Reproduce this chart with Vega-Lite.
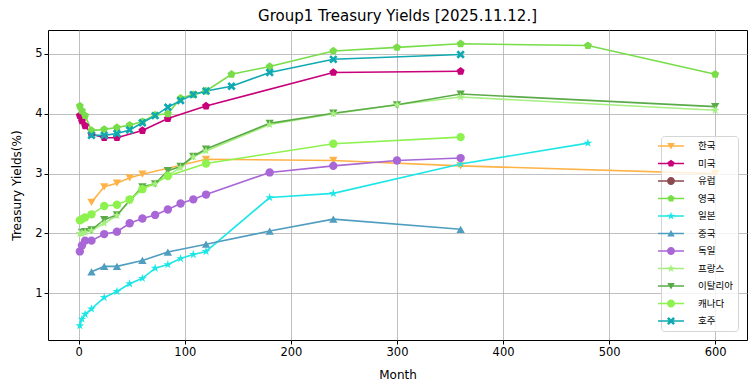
{
  "$schema": "https://vega.github.io/schema/vega-lite/v6.json",
  "width": 699,
  "height": 310,
  "autosize": "none",
  "padding": {"left": 48, "top": 30, "right": 8, "bottom": 51},
  "background": "white",
  "title": {"text": "Group1 Treasury Yields [2025.11.12.]", "font": "DejaVu Sans", "fontSize": 15, "fontWeight": "normal", "color": "#000", "anchor": "middle", "offset": 6},
  "config": {
    "view": {"stroke": "#000", "strokeWidth": 1},
    "axis": {"grid": true, "gridColor": "#b0b0b0", "gridWidth": 0.8, "domain": false, "tickColor": "#000", "tickSize": 4, "labelFont": "DejaVu Sans", "labelFontSize": 11.5, "labelColor": "#000", "titleFont": "DejaVu Sans", "titleFontSize": 12, "titleFontWeight": "normal", "titleColor": "#000"}
  },
  "data": {"values": [
    {"c":"한국","m":12,"y":2.52},{"c":"한국","m":24,"y":2.78},{"c":"한국","m":36,"y":2.84},{"c":"한국","m":48,"y":2.93},{"c":"한국","m":60,"y":2.99},{"c":"한국","m":120,"y":3.24},{"c":"한국","m":240,"y":3.22},{"c":"한국","m":360,"y":3.13},{"c":"한국","m":600,"y":3.0},
    {"c":"미국","m":1,"y":3.97},{"c":"미국","m":3,"y":3.88},{"c":"미국","m":6,"y":3.80},{"c":"미국","m":12,"y":3.66},{"c":"미국","m":24,"y":3.60},{"c":"미국","m":36,"y":3.60},{"c":"미국","m":60,"y":3.72},{"c":"미국","m":84,"y":3.92},{"c":"미국","m":120,"y":4.13},{"c":"미국","m":240,"y":4.69},{"c":"미국","m":360,"y":4.71},
    {"c":"영국","m":1,"y":4.13},{"c":"영국","m":3,"y":4.05},{"c":"영국","m":6,"y":3.97},{"c":"영국","m":12,"y":3.72},{"c":"영국","m":24,"y":3.74},{"c":"영국","m":36,"y":3.77},{"c":"영국","m":48,"y":3.81},{"c":"영국","m":60,"y":3.87},{"c":"영국","m":72,"y":3.98},{"c":"영국","m":84,"y":4.00},{"c":"영국","m":96,"y":4.26},{"c":"영국","m":108,"y":4.32},{"c":"영국","m":120,"y":4.38},{"c":"영국","m":144,"y":4.66},{"c":"영국","m":180,"y":4.79},{"c":"영국","m":240,"y":5.05},{"c":"영국","m":300,"y":5.11},{"c":"영국","m":360,"y":5.17},{"c":"영국","m":480,"y":5.14},{"c":"영국","m":600,"y":4.66},
    {"c":"일본","m":1,"y":0.46},{"c":"일본","m":3,"y":0.57},{"c":"일본","m":6,"y":0.65},{"c":"일본","m":12,"y":0.74},{"c":"일본","m":24,"y":0.93},{"c":"일본","m":36,"y":1.03},{"c":"일본","m":48,"y":1.16},{"c":"일본","m":60,"y":1.25},{"c":"일본","m":72,"y":1.42},{"c":"일본","m":84,"y":1.48},{"c":"일본","m":96,"y":1.58},{"c":"일본","m":108,"y":1.65},{"c":"일본","m":120,"y":1.70},{"c":"일본","m":180,"y":2.60},{"c":"일본","m":240,"y":2.67},{"c":"일본","m":360,"y":3.16},{"c":"일본","m":480,"y":3.51},
    {"c":"중국","m":12,"y":1.36},{"c":"중국","m":24,"y":1.45},{"c":"중국","m":36,"y":1.45},{"c":"중국","m":60,"y":1.55},{"c":"중국","m":84,"y":1.69},{"c":"중국","m":120,"y":1.82},{"c":"중국","m":180,"y":2.04},{"c":"중국","m":240,"y":2.24},{"c":"중국","m":360,"y":2.07},
    {"c":"독일","m":1,"y":1.70},{"c":"독일","m":3,"y":1.80},{"c":"독일","m":6,"y":1.88},{"c":"독일","m":12,"y":1.88},{"c":"독일","m":24,"y":1.99},{"c":"독일","m":36,"y":2.03},{"c":"독일","m":48,"y":2.17},{"c":"독일","m":60,"y":2.25},{"c":"독일","m":72,"y":2.31},{"c":"독일","m":84,"y":2.40},{"c":"독일","m":96,"y":2.50},{"c":"독일","m":108,"y":2.57},{"c":"독일","m":120,"y":2.65},{"c":"독일","m":180,"y":3.02},{"c":"독일","m":240,"y":3.13},{"c":"독일","m":300,"y":3.22},{"c":"독일","m":360,"y":3.26},
    {"c":"프랑스","m":1,"y":2.00},{"c":"프랑스","m":3,"y":2.00},{"c":"프랑스","m":6,"y":2.02},{"c":"프랑스","m":12,"y":2.05},{"c":"프랑스","m":24,"y":2.17},{"c":"프랑스","m":36,"y":2.30},{"c":"프랑스","m":48,"y":2.55},{"c":"프랑스","m":60,"y":2.75},{"c":"프랑스","m":72,"y":2.83},{"c":"프랑스","m":84,"y":2.97},{"c":"프랑스","m":96,"y":3.10},{"c":"프랑스","m":108,"y":3.28},{"c":"프랑스","m":120,"y":3.38},{"c":"프랑스","m":180,"y":3.82},{"c":"프랑스","m":240,"y":4.00},{"c":"프랑스","m":300,"y":4.15},{"c":"프랑스","m":360,"y":4.28},{"c":"프랑스","m":600,"y":4.06},
    {"c":"이탈리아","m":3,"y":2.02},{"c":"이탈리아","m":6,"y":2.03},{"c":"이탈리아","m":12,"y":2.06},{"c":"이탈리아","m":24,"y":2.23},{"c":"이탈리아","m":36,"y":2.31},{"c":"이탈리아","m":48,"y":2.55},{"c":"이탈리아","m":60,"y":2.78},{"c":"이탈리아","m":72,"y":2.83},{"c":"이탈리아","m":84,"y":3.05},{"c":"이탈리아","m":96,"y":3.12},{"c":"이탈리아","m":108,"y":3.29},{"c":"이탈리아","m":120,"y":3.41},{"c":"이탈리아","m":180,"y":3.84},{"c":"이탈리아","m":240,"y":4.01},{"c":"이탈리아","m":300,"y":4.15},{"c":"이탈리아","m":360,"y":4.33},{"c":"이탈리아","m":600,"y":4.12},
    {"c":"캐나다","m":1,"y":2.22},{"c":"캐나다","m":3,"y":2.24},{"c":"캐나다","m":6,"y":2.27},{"c":"캐나다","m":12,"y":2.32},{"c":"캐나다","m":24,"y":2.46},{"c":"캐나다","m":36,"y":2.48},{"c":"캐나다","m":48,"y":2.57},{"c":"캐나다","m":60,"y":2.74},{"c":"캐나다","m":84,"y":2.96},{"c":"캐나다","m":120,"y":3.17},{"c":"캐나다","m":240,"y":3.50},{"c":"캐나다","m":360,"y":3.61},
    {"c":"호주","m":12,"y":3.64},{"c":"호주","m":24,"y":3.64},{"c":"호주","m":36,"y":3.67},{"c":"호주","m":48,"y":3.73},{"c":"호주","m":60,"y":3.85},{"c":"호주","m":72,"y":3.97},{"c":"호주","m":84,"y":4.11},{"c":"호주","m":96,"y":4.22},{"c":"호주","m":108,"y":4.32},{"c":"호주","m":120,"y":4.38},{"c":"호주","m":144,"y":4.46},{"c":"호주","m":180,"y":4.69},{"c":"호주","m":240,"y":4.91},{"c":"호주","m":360,"y":4.99}
  ]},
  "encoding": {
    "x": {"field": "m", "type": "quantitative", "scale": {"domain": [-29, 630], "nice": false, "zero": false}, "axis": {"values": [0,100,200,300,400,500,600], "title": "Month", "titlePadding": 12}},
    "y": {"field": "y", "type": "quantitative", "scale": {"domain": [0.22, 5.4], "nice": false, "zero": false}, "axis": {"values": [1,2,3,4,5], "title": "Treasury Yields(%)", "titlePadding": 11}},
    "color": {"field": "c", "type": "nominal",
      "scale": {"domain": ["한국","미국","유럽","영국","일본","중국","독일","프랑스","이탈리아","캐나다","호주"],
                "range": ["#FFB347","#C8007A","#8B4A4E","#78DD48","#1EE6E6","#4F9DBF","#A966D6","#A6EF80","#5BAA48","#8DF24E","#10A9B1"]},
      "legend": {"orient": "none", "legendX": 613, "legendY": 106, "title": null, "padding": 5, "symbolSize": 100, "symbolOffset": 0, "labelOffset": 22, "rowPadding": 7.5,
        "labelFont": "Noto Sans CJK KR", "labelFontSize": 9.5, "labelColor": "#000", "strokeColor": "#d5d5d5", "fillColor": "rgba(255,255,255,0.8)", "cornerRadius": 3, "symbolStrokeWidth": 0, "symbolOpacity": 1, "symbolType": "circle",
        "encode": {"symbols": {"update": {
          "shape": {"signal": "['M-2.6,-0.16H2.6V0.16H-2.6ZM-0.75,-0.6L0.75,-0.6L0,0.7Z','M-2.6,-0.16H2.6V0.16H-2.6ZM0,-0.75L0.713,-0.232L0.441,0.607L-0.441,0.607L-0.713,-0.232Z','M-2.6,-0.16H2.6V0.16H-2.6ZM0.8,0A0.8,0.8 0 1,1 -0.8,0A0.8,0.8 0 1,1 0.8,0Z','M-2.6,-0.16H2.6V0.16H-2.6ZM0,-0.75L0.713,-0.232L0.441,0.607L-0.441,0.607L-0.713,-0.232Z','M-2.6,-0.16H2.6V0.16H-2.6ZM0,-0.85L0.191,-0.263L0.808,-0.263L0.309,0.1L0.5,0.688L0,0.325L-0.5,0.688L-0.309,0.1L-0.808,-0.263L-0.191,-0.263Z','M-2.6,-0.16H2.6V0.16H-2.6ZM0,-0.7L0.75,0.6L-0.75,0.6Z','M-2.6,-0.16H2.6V0.16H-2.6ZM0.8,0A0.8,0.8 0 1,1 -0.8,0A0.8,0.8 0 1,1 0.8,0Z','M-2.6,-0.16H2.6V0.16H-2.6ZM0,-0.85L0.191,-0.263L0.808,-0.263L0.309,0.1L0.5,0.688L0,0.325L-0.5,0.688L-0.309,0.1L-0.808,-0.263L-0.191,-0.263Z','M-2.6,-0.16H2.6V0.16H-2.6ZM-0.75,-0.6L0.75,-0.6L0,0.7Z','M-2.6,-0.16H2.6V0.16H-2.6ZM0.8,0A0.8,0.8 0 1,1 -0.8,0A0.8,0.8 0 1,1 0.8,0Z','M-2.6,-0.16H2.6V0.16H-2.6ZM-0.8,-0.44L-0.44,-0.8L0,-0.36L0.44,-0.8L0.8,-0.44L0.36,0L0.8,0.44L0.44,0.8L0,0.36L-0.44,0.8L-0.8,0.44L-0.36,0Z'][indexof(['한국','미국','유럽','영국','일본','중국','독일','프랑스','이탈리아','캐나다','호주'], datum.value)]"},
          "fill": {"scale": "color", "field": "value"},
          "stroke": {"value": "transparent"},
          "opacity": {"value": 1}
        }}}
      }}
  },
  "layer": [
    {"mark": {"type": "line", "strokeWidth": 1.6, "clip": true}},
    {"transform": [{"filter": {"field": "c", "oneOf": ["한국","이탈리아"]}}],
     "mark": {"type": "point", "filled": true, "opacity": 1, "size": 70, "clip": true, "shape": "triangle-down"}},
    {"transform": [{"filter": {"field": "c", "oneOf": ["미국","영국"]}}],
     "mark": {"type": "point", "filled": true, "opacity": 1, "size": 70, "clip": true, "shape": "M0,-1L0.951,-0.309L0.588,0.809L-0.588,0.809L-0.951,-0.309Z"}},
    {"transform": [{"filter": {"field": "c", "oneOf": ["일본","프랑스"]}}],
     "mark": {"type": "point", "filled": true, "opacity": 1, "size": 70, "clip": true, "shape": "M0,-1.1L0.247,-0.34L1.046,-0.34L0.4,0.13L0.647,0.89L0,0.42L-0.647,0.89L-0.4,0.13L-1.046,-0.34L-0.247,-0.34Z"}},
    {"transform": [{"filter": {"field": "c", "oneOf": ["중국"]}}],
     "mark": {"type": "point", "filled": true, "opacity": 1, "size": 70, "clip": true, "shape": "triangle-up"}},
    {"transform": [{"filter": {"field": "c", "oneOf": ["독일","캐나다"]}}],
     "mark": {"type": "point", "filled": true, "opacity": 1, "size": 70, "clip": true, "shape": "circle"}},
    {"transform": [{"filter": {"field": "c", "oneOf": ["호주"]}}],
     "mark": {"type": "point", "filled": true, "opacity": 1, "size": 70, "clip": true, "shape": "M-1,-0.55L-0.55,-1L0,-0.45L0.55,-1L1,-0.55L0.45,0L1,0.55L0.55,1L0,0.45L-0.55,1L-1,0.55L-0.45,0Z"}}
  ]
}
